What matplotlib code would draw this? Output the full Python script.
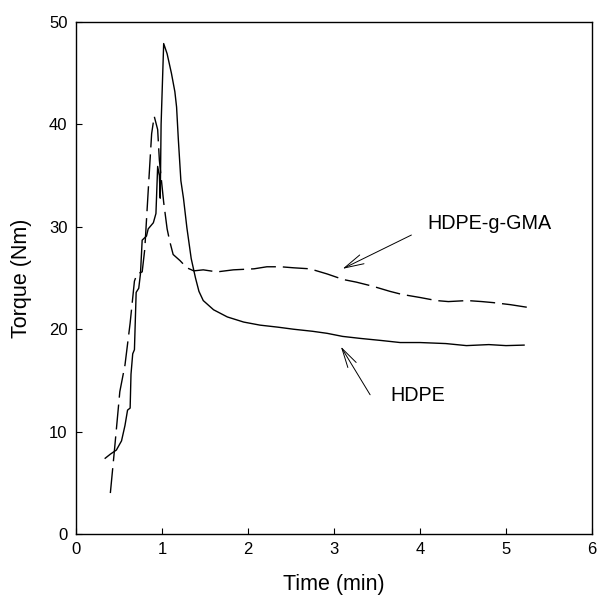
import matplotlib
matplotlib.use("Agg")
import matplotlib.pyplot as plt

plt.rcParams['font.family'] = ['Liberation Sans', 'DejaVu Sans']

# HDPE (solid)
hdpe_t = [0.34, 0.40, 0.47, 0.53, 0.57, 0.60, 0.63, 0.64, 0.66, 0.68, 0.70, 0.73, 0.75,
          0.77, 0.82, 0.84, 0.90, 0.93, 0.95, 0.97, 0.98, 0.99, 1.02, 1.06, 1.11, 1.15,
          1.17, 1.19, 1.22, 1.25, 1.29, 1.34, 1.39, 1.43, 1.48, 1.60, 1.76, 1.95, 2.14,
          2.35, 2.53, 2.75, 2.92, 3.10, 3.31, 3.55, 3.77, 4.00, 4.30, 4.54, 4.80, 5.00, 5.21]
hdpe_y = [7.4, 7.8, 8.2, 9.1, 10.6, 12.1, 12.3, 15.6, 17.6, 18.0, 23.6, 24.0, 25.4,
          28.7, 29.1, 29.8, 30.4, 31.3, 35.9, 35.0, 32.8, 40.0, 47.9, 46.9, 45.0, 43.2,
          41.7, 38.6, 34.5, 32.8, 29.9, 26.9, 25.0, 23.7, 22.8, 21.9, 21.2, 20.7, 20.4,
          20.2, 20.0, 19.8, 19.6, 19.3, 19.1, 18.9, 18.7, 18.7, 18.6, 18.4, 18.5, 18.4, 18.45]

# HDPE-g-GMA (dashed)
gma_t = [0.40, 0.45, 0.51, 0.57, 0.63, 0.68, 0.71, 0.77, 0.80, 0.84, 0.88, 0.91, 0.95,
         0.97, 1.02, 1.06, 1.09, 1.13, 1.21, 1.29, 1.37, 1.48, 1.64, 1.83, 1.95, 2.07,
         2.22, 2.38, 2.53, 2.72, 2.92, 3.11, 3.26, 3.45, 3.65, 3.79, 4.00, 4.19, 4.33,
         4.55, 4.72, 4.85, 5.05, 5.28]
gma_y = [4.0, 8.4, 13.9, 16.5, 20.6, 24.7, 25.4, 25.6, 27.8, 33.5, 39.1, 40.8, 39.5,
         36.5, 32.4, 29.8, 28.6, 27.3, 26.7, 26.0, 25.7, 25.8, 25.6, 25.8, 25.85, 25.9,
         26.1, 26.1, 26.0, 25.9, 25.4, 24.85, 24.6, 24.2, 23.7, 23.4, 23.1, 22.8, 22.7,
         22.8, 22.7, 22.6, 22.4, 22.1]

xticks = [0, 1, 2, 3, 4, 5, 6]
yticks = [0, 10, 20, 30, 40, 50]

fig = plt.figure(figsize=(5.98, 5.96), dpi=100)
ax = fig.add_axes([0.127, 0.104, 0.863, 0.859])

ax.plot(hdpe_t, hdpe_y, color='black', lw=1.0)
ax.plot(gma_t, gma_y, color='black', lw=1.0, dashes=(18, 5))

ax.set_xlim(0, 6)
ax.set_ylim(0, 50)
ax.set_xticks(xticks)
ax.set_yticks(yticks)
ax.tick_params(direction='in', length=4, width=0.8, labelsize=12,
               top=False, right=False, pad=6)
for s in ax.spines.values():
    s.set_linewidth(1.0)

ax.set_xlabel('Time (min)', fontsize=15.5, labelpad=12)
ax.set_ylabel('Torque (Nm)', fontsize=15.5, labelpad=12)

arrowprops = dict(arrowstyle='->,head_length=1.4,head_width=0.35', color='black', lw=0.7,
                  shrinkA=0, shrinkB=0)
ax.annotate('', xy=(3.10, 25.9), xytext=(3.90, 29.2), arrowprops=arrowprops)
ax.text(4.81, 30.3, 'HDPE-g-GMA', fontsize=14.2, ha='center', va='center')
ax.annotate('', xy=(3.08, 18.3), xytext=(3.42, 13.6), arrowprops=arrowprops)
ax.text(3.97, 13.5, 'HDPE', fontsize=14.2, ha='center', va='center')

fig.savefig('out.png', dpi=100)
